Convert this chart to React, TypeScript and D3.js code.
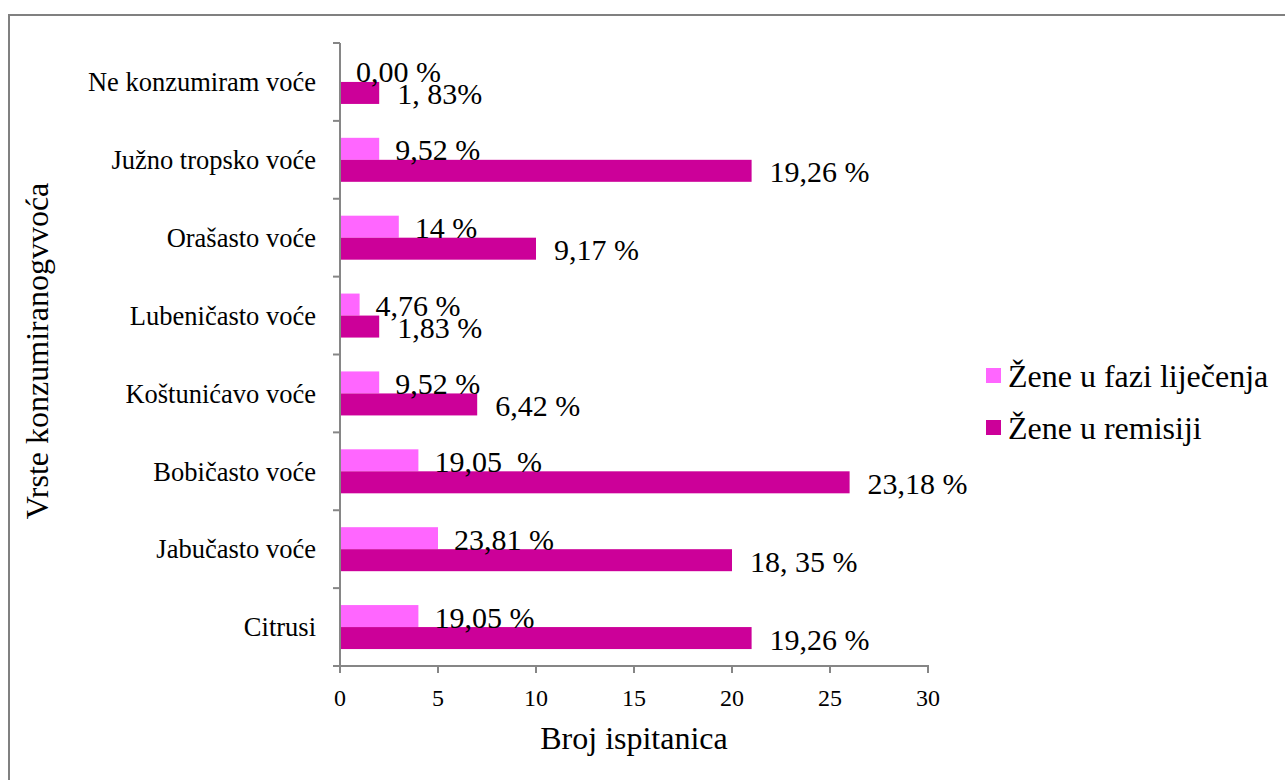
import React from "react";
import * as d3 from "d3";

const categories = [
  "Ne konzumiram voće",
  "Južno tropsko voće",
  "Orašasto voće",
  "Lubeničasto voće",
  "Koštunićavo voće",
  "Bobičasto voće",
  "Jabučasto voće",
  "Citrusi",
];
const seriesNames = ["Žene u fazi liječenja", "Žene u remisiji"];
const faziValues = [0, 2, 3, 1, 2, 4, 5, 4];
const remisijiValues = [2, 21, 10, 2, 7, 26, 20, 21];
const faziLabels = ["0,00 %", "9,52 %", "14 %", "4,76 %", "9,52 %", "19,05  %", "23,81 %", "19,05 %"];
const remisijiLabels = ["1, 83%", "19,26 %", "9,17 %", "1,83 %", "6,42 %", "23,18 %", "18, 35 %", "19,26 %"];
const xTicks = [0, 5, 10, 15, 20, 25, 30];
const colors = ["#FF66FF", "#CC0099"];

const W = 1285;
const H = 780;
const FONT = "'Liberation Serif', 'Times New Roman', serif";
const AXIS = "#868686";

export default function App() {
  const x = d3.scaleLinear().domain([0, 30]).range([340, 928]);
  const y = d3.scaleBand<string>().domain(categories).range([43, 666]).padding(0);
  const inner = d3
    .scaleBand<string>()
    .domain(seriesNames)
    .range([0, y.step()])
    .paddingInner(0)
    .paddingOuter(0.77);
  const series = [
    { name: seriesNames[0], values: faziValues, labels: faziLabels, color: colors[0] },
    { name: seriesNames[1], values: remisijiValues, labels: remisijiLabels, color: colors[1] },
  ];
  const boundaries = d3.range(categories.length + 1).map((i) => 43 + i * y.step());

  return (
    <svg
      width={W}
      height={H}
      style={{ position: "fixed", left: 0, top: 0, background: "#fff" }}
      fontFamily={FONT}
    >
      <rect x={0} y={0} width={W} height={H} fill="#fff" />
      <rect x={9} y={15} width={W + 20} height={H + 20} fill="none" stroke="#808080" strokeWidth={2} />

      {/* bars */}
      {series.map((s) =>
        categories.map((c, i) => {
          const y0 = (y(c) ?? 0) + (inner(s.name) ?? 0);
          return (
            <rect
              key={s.name + c}
              x={x(0)}
              y={y0}
              width={x(s.values[i]) - x(0)}
              height={inner.bandwidth()}
              fill={s.color}
            />
          );
        })
      )}

      {/* axes */}
      <line x1={x(0)} x2={x(0)} y1={43} y2={666} stroke={AXIS} strokeWidth={2} />
      {boundaries.map((b, i) => (
        <line key={"yt" + i} x1={333} x2={x(0)} y1={b} y2={b} stroke={AXIS} strokeWidth={2} />
      ))}
      <line x1={x(0) - 1} x2={x(30) + 1} y1={666} y2={666} stroke={AXIS} strokeWidth={2} />
      {xTicks.map((t) => (
        <g key={"xt" + t}>
          <line x1={x(t)} x2={x(t)} y1={666} y2={673} stroke={AXIS} strokeWidth={2} />
          <text x={x(t)} y={706} fontSize={24} textAnchor="middle" fill="#000">
            {t}
          </text>
        </g>
      ))}

      {/* category labels */}
      {categories.map((c) => (
        <text
          key={"cl" + c}
          x={316}
          y={(y(c) ?? 0) + y.step() / 2}
          dy="0.35em"
          fontSize={26.5}
          textAnchor="end"
          fill="#000"
        >
          {c}
        </text>
      ))}

      {/* data labels */}
      {series.map((s, si) =>
        categories.map((c, i) => {
          const yc = (y(c) ?? 0) + (inner(s.name) ?? 0) + inner.bandwidth() / 2;
          return (
            <text
              key={"dl" + s.name + c}
              x={x(s.values[i]) + (si === 0 ? 16 : 18)}
              y={yc + 1}
              dy="0.35em"
              fontSize={30}
              fill="#000"
              style={{ whiteSpace: "pre" }}
            >
              {s.labels[i]}
            </text>
          );
        })
      )}

      {/* axis titles */}
      <text x={(x(0) + x(30)) / 2} y={749} fontSize={32} textAnchor="middle" fill="#000">
        Broj ispitanica
      </text>
      <text
        transform={`translate(48, 351) rotate(-90)`}
        fontSize={32}
        textAnchor="middle"
        fill="#000"
      >
        Vrste konzumiranogvvoća
      </text>

      {/* legend */}
      {series.map((s, i) => (
        <g key={"lg" + s.name} transform={`translate(0, ${i * 52})`}>
          <rect x={986} y={368} width={15} height={15} fill={s.color} />
          <text x={1008} y={387} fontSize={32} fill="#000">
            {s.name}
          </text>
        </g>
      ))}
    </svg>
  );
}
